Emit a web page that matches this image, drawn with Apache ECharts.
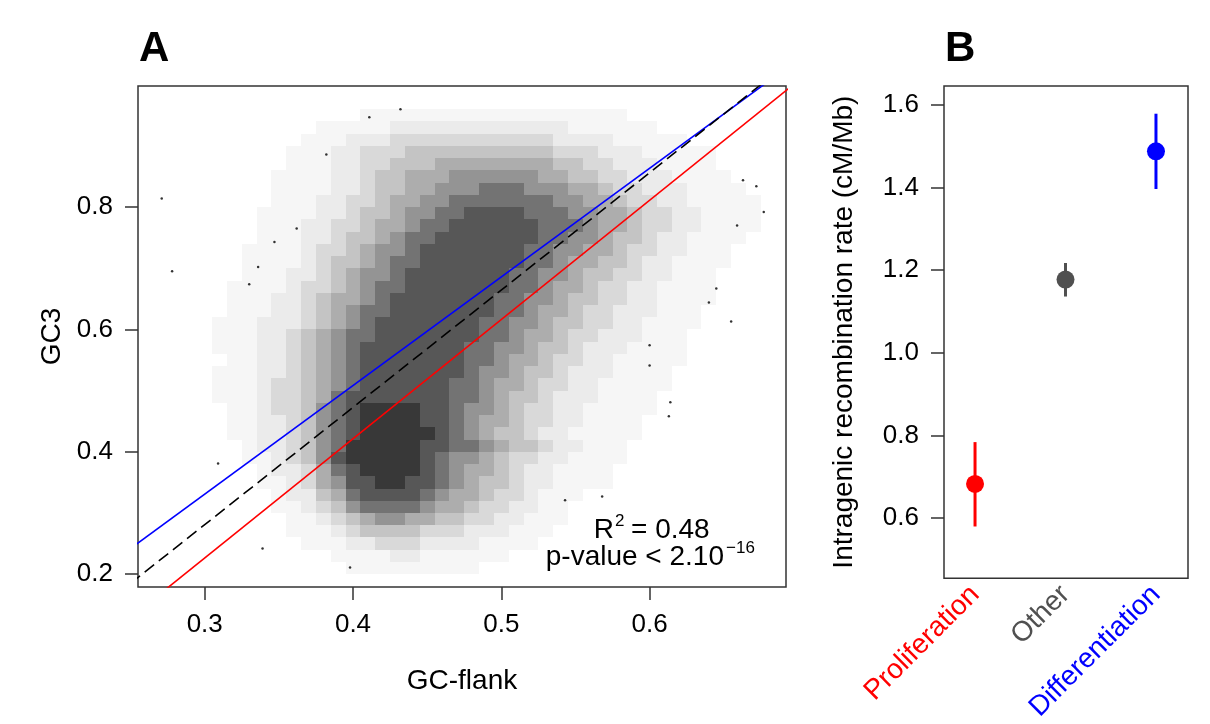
<!DOCTYPE html>
<html>
<head>
<meta charset="utf-8">
<script src="https://cdn.jsdelivr.net/npm/echarts@6/dist/echarts.min.js"></script>
<style>
  html, body { margin: 0; padding: 0; background: #fff; }
  #main { width: 1210px; height: 724px; }
</style>
</head>
<body>
<div id="main"></div>
<script>
// ---- panel A: GC3 vs GC-flank ----
// the cloud has thousands of dots, so it is kept as a density grid read off the picture
// (0 = empty, 9 = nearly black), one string per row, columns = cloudCols
const cloudCols = [0.27, 0.28, 0.29, 0.30, 0.31, 0.32, 0.33, 0.34, 0.35, 0.36,
  0.37, 0.38, 0.39, 0.40, 0.41, 0.42, 0.43, 0.44, 0.45, 0.46,
  0.47, 0.48, 0.49, 0.50, 0.51, 0.52, 0.53, 0.54, 0.55, 0.56,
  0.57, 0.58, 0.59, 0.60, 0.61, 0.62, 0.63, 0.64, 0.65, 0.66,
  0.67, 0.68]
const cloudRows = [0.95, 0.93, 0.91, 0.89, 0.87, 0.85, 0.83, 0.81, 0.79, 0.77,
  0.75, 0.73, 0.71, 0.69, 0.67, 0.65, 0.63, 0.61, 0.59, 0.57,
  0.55, 0.53, 0.51, 0.49, 0.47, 0.45, 0.43, 0.41, 0.39, 0.37,
  0.35, 0.33, 0.31, 0.29, 0.27, 0.25, 0.23, 0.21]
const cloudDensity = [
  '0000000000 0000111111 1111111111 1100000000 00',
  '0000000000 0111112222 2222222211 1111000000 00',
  '0000000000 1112223333 3333333222 2111110000 00',
  '0000000001 1122333444 4444444333 2221111100 00',
  '0000000001 1122334445 5555555443 3222111100 00',
  '0000000011 1122344555 6666665544 3322211110 00',
  '0000000011 1122344556 6677766655 4332221111 00',
  '0000000011 1223345566 7777777665 5433221111 10',
  '0000000111 1223445667 7888877766 5543322111 10',
  '0000000111 2233455677 8888887776 5543322111 10',
  '0000000111 2234456778 8888887766 5443221111 00',
  '0000001111 2334566788 8888877665 5433221110 00',
  '0000001111 2344567788 8888877655 4432211110 00',
  '0000001112 2345667888 8888776654 4332211100 00',
  '0000011112 3345677888 8888776554 3322111100 00',
  '0000011122 3455678888 8887766544 3322111100 00',
  '0000011122 3456778888 8887765543 3222111000 00',
  '0000111222 3456788888 8877665443 3221111000 00',
  '0000111223 4567788888 8877655433 2221110000 00',
  '0000111223 4567888888 8776654432 2211110000 00',
  '0000011223 4567888888 8776554332 2111110000 00',
  '0000111223 4567888888 8766544322 2111100000 00',
  '0000111233 4567888888 7765543322 1111100000 00',
  '0000111233 4578888888 7765443222 1111000000 00',
  '0000011233 4678999988 7665433221 1111000000 00',
  '0000011223 4678999988 7655433221 1110000000 00',
  '0000011223 4678999998 7654432211 1110000000 00',
  '0000001223 4679999988 7765443221 1100000000 00',
  '0000001123 4689999987 6654332211 1100000000 00',
  '0000000122 3578999987 6554322111 1000000000 00',
  '0000000112 3568899887 6544322111 1000000000 00',
  '0000000012 2457888876 5543321110 0000000000 00',
  '0000000011 2346777765 5433221100 0000000000 00',
  '0000000001 1234566554 4332211100 0000000000 00',
  '0000000001 1123444433 3222111000 0000000000 00',
  '0000000000 1112233322 2211110000 0000000000 00',
  '0000000000 0011112211 1111000000 0000000000 00',
  '0000000000 0001111111 1100000000 0000000000 00'
]
// single dots well outside the cloud
const sparseDots = [
  [0.271, 0.814], [0.278, 0.695], [0.309, 0.381], [0.330, 0.674], [0.336, 0.702],
  [0.347, 0.743], [0.362, 0.765], [0.382, 0.886], [0.411, 0.947], [0.432, 0.960],
  [0.339, 0.242], [0.398, 0.211], [0.613, 0.458], [0.614, 0.481], [0.568, 0.327],
  [0.543, 0.321], [0.600, 0.574], [0.600, 0.541], [0.677, 0.792], [0.655, 0.613],
  [0.672, 0.834], [0.663, 0.844], [0.659, 0.770], [0.645, 0.667], [0.640, 0.644]
]
// regression lines, end points in data units
const fitAll = [[0.25, 0.185], [0.70, 1.048]]
const fitDifferentiation = [[0.25, 0.242], [0.70, 1.041]]
const fitProliferation = [[0.25, 0.129], [0.70, 1.006]]
const gcTicks = [0.3, 0.4, 0.5, 0.6]
const gc3Ticks = [0.2, 0.4, 0.6, 0.8]

// ---- panel B: recombination rate by group ----
const groups = ['Proliferation', 'Other', 'Differentiation']
const rateMean = [0.683, 1.177, 1.487]
const rateLow = [0.580, 1.136, 1.396]
const rateHigh = [0.784, 1.217, 1.578]
const rateTicks = [0.6, 0.8, 1.0, 1.2, 1.4, 1.6]

const groupColors = ['#ff0000', '#505050', '#0000ff']
// how dark each density level is drawn
const densityAlpha = [0, 0.035, 0.08, 0.15, 0.23, 0.32, 0.42, 0.55, 0.66, 0.78]
const FONT = "'Liberation Sans', Arial, sans-serif"

let cloudData = []
cloudDensity.forEach((row, j) => {
  const cells = row.replace(/ /g, '')
  for (let i = 0; i < cells.length; i++) {
    const d = parseInt(cells[i])
    if (d > 0) cloudData.push([cloudCols[i], cloudRows[j], d])
  }
})

const tickStyle = { color: '#333', width: 1.5 }
const labelStyle = { fontSize: 26, color: '#000', fontFamily: FONT }

function valueAxis (grid, min, max, ticks, extra) {
  return Object.assign({
    type: 'value',
    gridIndex: grid,
    min: min,
    max: max,
    axisLine: { show: false, onZero: false },
    splitLine: { show: false },
    axisTick: { show: true, inside: false, length: 13, lineStyle: tickStyle, customValues: ticks },
    axisLabel: Object.assign({ margin: 25, customValues: ticks, formatter: v => v.toFixed(1) }, labelStyle),
    nameLocation: 'middle',
    nameTextStyle: { fontSize: 28, color: '#000', fontFamily: FONT }
  }, extra)
}

const option = {
  animation: false,
  backgroundColor: '#fff',
  grid: [
    { left: 138, top: 86, width: 648, height: 501, show: true, borderColor: '#333', borderWidth: 1.5, backgroundColor: 'transparent' },
    { left: 944, top: 86, width: 244, height: 500, show: true, borderColor: '#333', borderWidth: 1.5, backgroundColor: 'transparent' }
  ],
  xAxis: [
    valueAxis(0, 0.255, 0.692, gcTicks, { name: 'GC-flank', nameGap: 80 }),
    valueAxis(1, 0.657, 3.354, [1, 2, 3], {
      axisTick: { show: false },
      axisLabel: {
        customValues: [1, 2, 3],
        rotate: 45,
        margin: 12,
        fontSize: 28,
        fontFamily: FONT,
        formatter: v => '{g' + (v - 1) + '|' + groups[v - 1] + '}',
        rich: {
          g0: { color: groupColors[0], fontSize: 28, fontFamily: FONT },
          g1: { color: groupColors[1], fontSize: 28, fontFamily: FONT },
          g2: { color: groupColors[2], fontSize: 28, fontFamily: FONT }
        }
      }
    })
  ],
  yAxis: [
    valueAxis(0, 0.179, 0.998, gc3Ticks, { name: 'GC3', nameGap: 33 }),
    valueAxis(1, 0.455, 1.645, rateTicks, { name: 'Intragenic recombination rate (cM/Mb)', nameGap: 86 })
  ],
  series: [
    {
      type: 'custom',
      xAxisIndex: 0,
      yAxisIndex: 0,
      data: cloudData,
      silent: true,
      renderItem: function (params, api) {
        const x = api.value(0)
        const y = api.value(1)
        const d = api.value(2)
        const p0 = api.coord([x - 0.005, y + 0.01])
        const p1 = api.coord([x + 0.005, y - 0.01])
        const x0 = Math.round(p0[0])
        const y0 = Math.round(p0[1])
        return {
          type: 'rect',
          shape: { x: x0, y: y0, width: Math.round(p1[0]) - x0, height: Math.round(p1[1]) - y0 },
          style: { fill: 'rgba(0,0,0,' + densityAlpha[d] + ')' }
        }
      }
    },
    {
      type: 'scatter',
      xAxisIndex: 0,
      yAxisIndex: 0,
      data: sparseDots,
      symbolSize: 2.5,
      itemStyle: { color: '#000' },
      silent: true
    },
    {
      type: 'line',
      xAxisIndex: 0,
      yAxisIndex: 0,
      data: fitDifferentiation,
      showSymbol: false,
      clip: true,
      lineStyle: { color: '#0000ff', width: 1.6 },
      silent: true
    },
    {
      type: 'line',
      xAxisIndex: 0,
      yAxisIndex: 0,
      data: fitProliferation,
      showSymbol: false,
      clip: true,
      lineStyle: { color: '#ff0000', width: 1.6 },
      silent: true
    },
    {
      type: 'line',
      xAxisIndex: 0,
      yAxisIndex: 0,
      data: fitAll,
      showSymbol: false,
      clip: true,
      lineStyle: { color: '#000', width: 1.6, type: [12, 6] },
      silent: true
    },
    {
      // error bars
      type: 'custom',
      xAxisIndex: 1,
      yAxisIndex: 1,
      data: groups.map((g, i) => [i + 1, rateLow[i], rateHigh[i]]),
      renderItem: function (params, api) {
        const lo = api.coord([api.value(0), api.value(1)])
        const hi = api.coord([api.value(0), api.value(2)])
        return {
          type: 'line',
          shape: { x1: lo[0], y1: lo[1], x2: hi[0], y2: hi[1] },
          style: { stroke: groupColors[params.dataIndex], lineWidth: 3 }
        }
      }
    },
    {
      type: 'scatter',
      xAxisIndex: 1,
      yAxisIndex: 1,
      data: groups.map((g, i) => [i + 1, rateMean[i]]),
      symbolSize: 18,
      itemStyle: { color: p => groupColors[p.dataIndex], opacity: 1 },
      z: 3
    }
  ],
  graphic: [
    { type: 'text', left: 139, top: 28, style: { text: 'A', font: 'bold 42px ' + FONT, fill: '#000' } },
    { type: 'text', left: 945, top: 28, style: { text: 'B', font: 'bold 42px ' + FONT, fill: '#000' } },
    { type: 'text', x: 614, y: 530, style: { text: 'R', font: '28px ' + FONT, fill: '#000', textAlign: 'right', textVerticalAlign: 'middle' } },
    { type: 'text', x: 615, y: 521, style: { text: '2', font: '17px ' + FONT, fill: '#000', textAlign: 'left', textVerticalAlign: 'middle' } },
    { type: 'text', x: 631, y: 530, style: { text: '= 0.48', font: '28px ' + FONT, fill: '#000', textAlign: 'left', textVerticalAlign: 'middle' } },
    { type: 'text', x: 724, y: 557, style: { text: 'p-value < 2.10', font: '28px ' + FONT, fill: '#000', textAlign: 'right', textVerticalAlign: 'middle' } },
    { type: 'text', x: 726, y: 548, style: { text: '\u221216', font: '17px ' + FONT, fill: '#000', textAlign: 'left', textVerticalAlign: 'middle' } }
  ]
}

const chart = echarts.init(document.getElementById('main'))
chart.setOption(option)
</script>
</body>
</html>
